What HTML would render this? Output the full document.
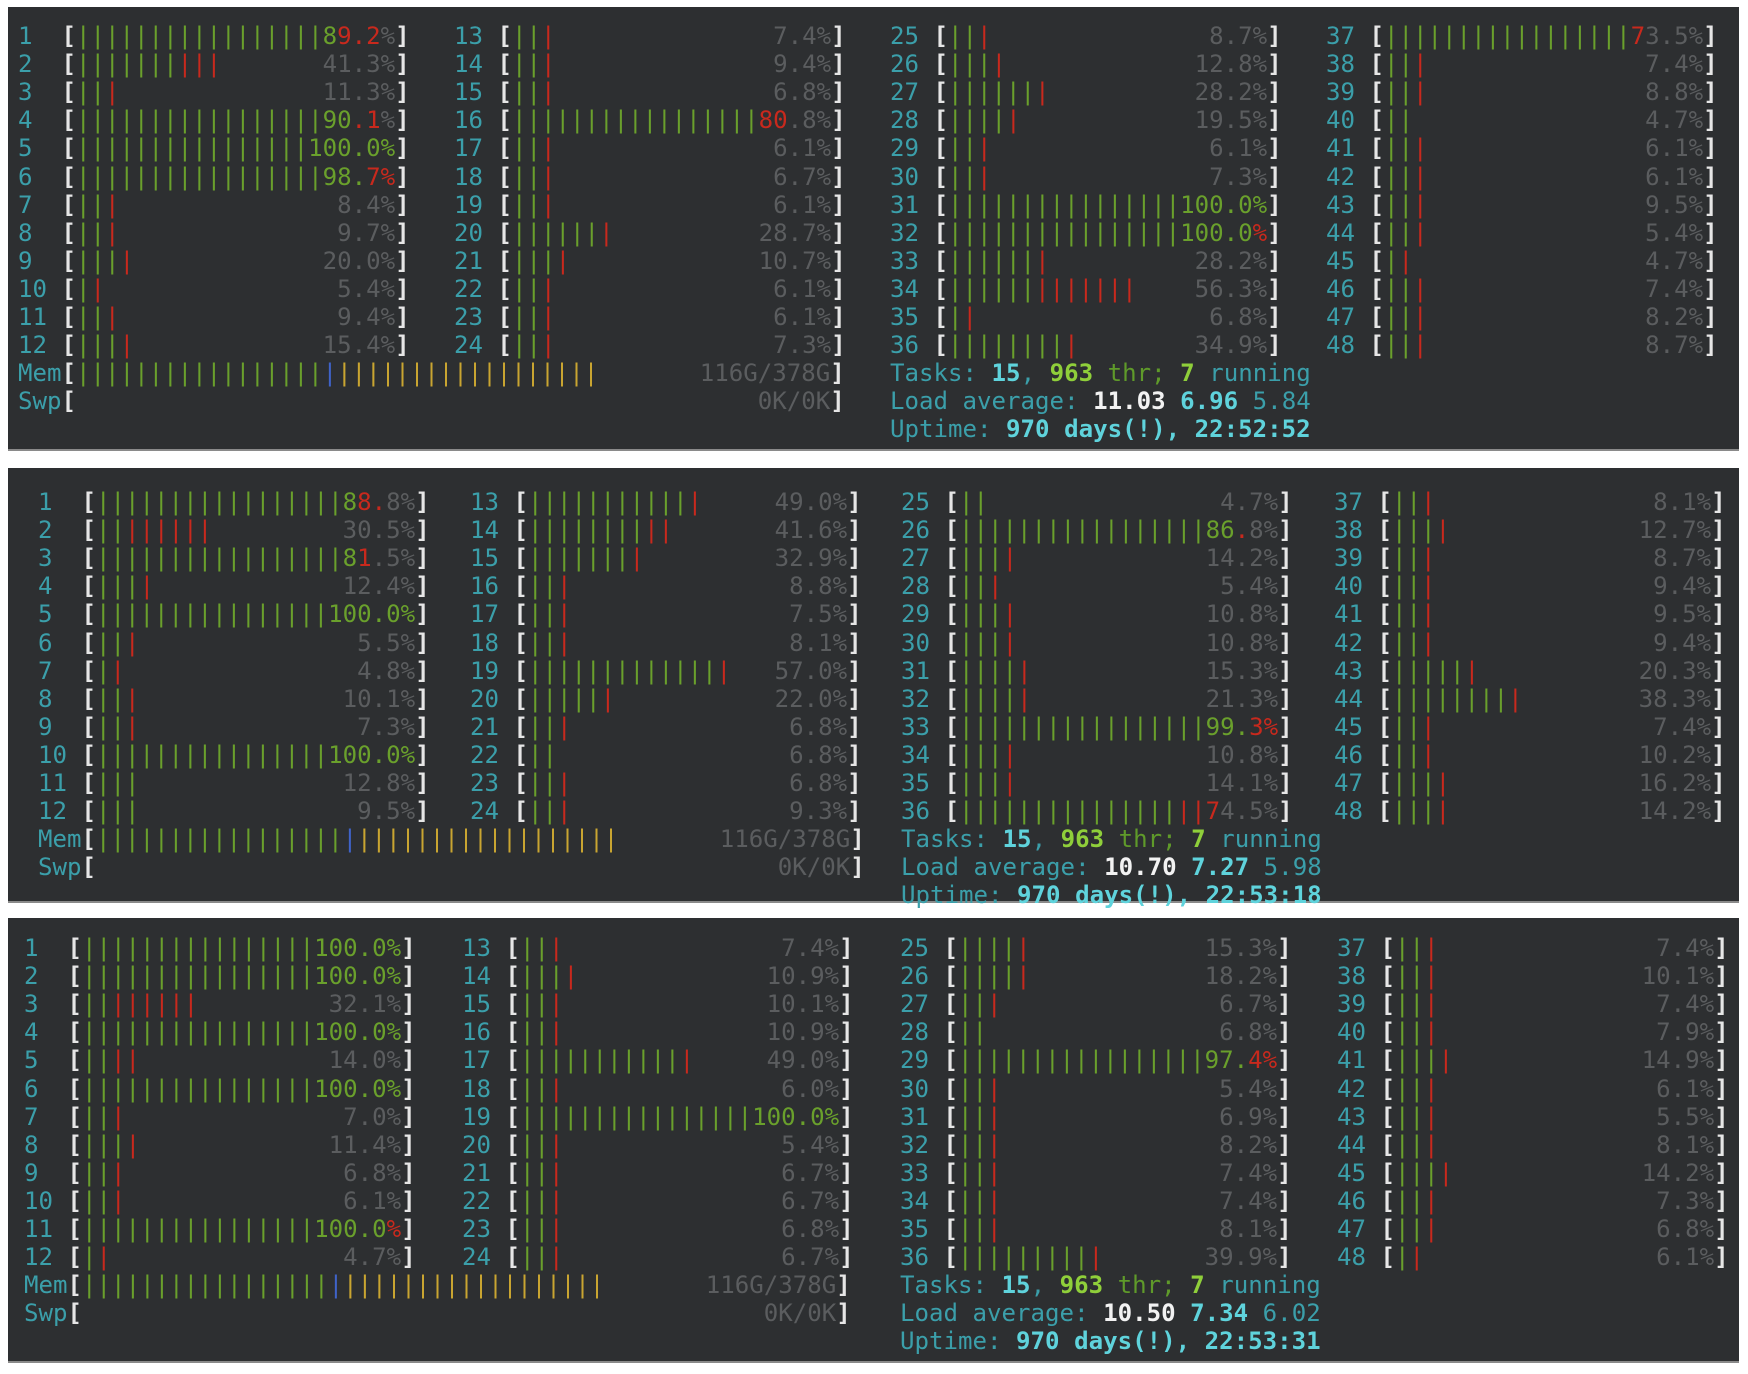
<!DOCTYPE html>
<html><head><meta charset="utf-8"><style>
body{margin:0;background:#fff;width:1748px;height:1374px;position:relative;overflow:hidden}
.pn{position:absolute;left:8px;width:1731px;background:#2d2f31;border-bottom:2px solid #8a8a8a}
.l{position:absolute;white-space:pre;font:bold 24.1px/28px "DejaVu Sans Mono","Liberation Mono",monospace;color:#e6e6e6;width:27ch;margin-top:3px}
.m{width:57ch}
.l i{font-style:normal;position:absolute;right:0;top:0}
.t{position:absolute;white-space:pre;font:24.1px/28px "DejaVu Sans Mono","Liberation Mono",monospace;color:#3b9faa;margin-top:3px}
n{color:#3b9faa;font-weight:normal}
g{color:#6aa02c;font-weight:normal}
e{color:#c8291d;font-weight:normal}
k{color:#5b5d5f;font-weight:normal}
y{color:#c9a531;font-weight:normal}
v{color:#3f63c8;font-weight:normal}
c{color:#5fd3dc;font-weight:bold}
h{color:#8fcf3a;font-weight:bold}
w{color:#f2f2f2;font-weight:bold}
z{color:#5f9a2a;font-weight:normal}
</style></head><body>
<div class="pn" style="top:7px;height:442px"></div>
<div class="pn" style="top:468px;height:433px"></div>
<div class="pn" style="top:918px;height:443px"></div>

<div class="l" style="left:18px;top:19px"><n>1 </n> [<g>|||||||||||||||||</g><i><g>8</g><e>9.2</e><k>%</k>]</i></div>
<div class="l" style="left:18px;top:47px"><n>2 </n> [<g>|||||||</g><e>|||</e><i><k>41.3%</k>]</i></div>
<div class="l" style="left:18px;top:75px"><n>3 </n> [<g>||</g><e>|</e><i><k>11.3%</k>]</i></div>
<div class="l" style="left:18px;top:103px"><n>4 </n> [<g>|||||||||||||||||</g><i><g>90</g><e>.1</e><k>%</k>]</i></div>
<div class="l" style="left:18px;top:131px"><n>5 </n> [<g>||||||||||||||||</g><i><g>100.0%</g>]</i></div>
<div class="l" style="left:18px;top:160px"><n>6 </n> [<g>|||||||||||||||||</g><i><g>98.</g><e>7%</e>]</i></div>
<div class="l" style="left:18px;top:188px"><n>7 </n> [<g>||</g><e>|</e><i><k>8.4%</k>]</i></div>
<div class="l" style="left:18px;top:216px"><n>8 </n> [<g>||</g><e>|</e><i><k>9.7%</k>]</i></div>
<div class="l" style="left:18px;top:244px"><n>9 </n> [<g>|||</g><e>|</e><i><k>20.0%</k>]</i></div>
<div class="l" style="left:18px;top:272px"><n>10</n> [<g>|</g><e>|</e><i><k>5.4%</k>]</i></div>
<div class="l" style="left:18px;top:300px"><n>11</n> [<g>||</g><e>|</e><i><k>9.4%</k>]</i></div>
<div class="l" style="left:18px;top:328px"><n>12</n> [<g>|||</g><e>|</e><i><k>15.4%</k>]</i></div>
<div class="l" style="left:454px;top:19px"><n>13</n> [<g>||</g><e>|</e><i><k>7.4%</k>]</i></div>
<div class="l" style="left:454px;top:47px"><n>14</n> [<g>||</g><e>|</e><i><k>9.4%</k>]</i></div>
<div class="l" style="left:454px;top:75px"><n>15</n> [<g>||</g><e>|</e><i><k>6.8%</k>]</i></div>
<div class="l" style="left:454px;top:103px"><n>16</n> [<g>|||||||||||||||||</g><i><e>80</e><k>.8%</k>]</i></div>
<div class="l" style="left:454px;top:131px"><n>17</n> [<g>||</g><e>|</e><i><k>6.1%</k>]</i></div>
<div class="l" style="left:454px;top:160px"><n>18</n> [<g>||</g><e>|</e><i><k>6.7%</k>]</i></div>
<div class="l" style="left:454px;top:188px"><n>19</n> [<g>||</g><e>|</e><i><k>6.1%</k>]</i></div>
<div class="l" style="left:454px;top:216px"><n>20</n> [<g>||||||</g><e>|</e><i><k>28.7%</k>]</i></div>
<div class="l" style="left:454px;top:244px"><n>21</n> [<g>|||</g><e>|</e><i><k>10.7%</k>]</i></div>
<div class="l" style="left:454px;top:272px"><n>22</n> [<g>||</g><e>|</e><i><k>6.1%</k>]</i></div>
<div class="l" style="left:454px;top:300px"><n>23</n> [<g>||</g><e>|</e><i><k>6.1%</k>]</i></div>
<div class="l" style="left:454px;top:328px"><n>24</n> [<g>||</g><e>|</e><i><k>7.3%</k>]</i></div>
<div class="l" style="left:890px;top:19px"><n>25</n> [<g>||</g><e>|</e><i><k>8.7%</k>]</i></div>
<div class="l" style="left:890px;top:47px"><n>26</n> [<g>|||</g><e>|</e><i><k>12.8%</k>]</i></div>
<div class="l" style="left:890px;top:75px"><n>27</n> [<g>||||||</g><e>|</e><i><k>28.2%</k>]</i></div>
<div class="l" style="left:890px;top:103px"><n>28</n> [<g>||||</g><e>|</e><i><k>19.5%</k>]</i></div>
<div class="l" style="left:890px;top:131px"><n>29</n> [<g>||</g><e>|</e><i><k>6.1%</k>]</i></div>
<div class="l" style="left:890px;top:160px"><n>30</n> [<g>||</g><e>|</e><i><k>7.3%</k>]</i></div>
<div class="l" style="left:890px;top:188px"><n>31</n> [<g>||||||||||||||||</g><i><g>100.0%</g>]</i></div>
<div class="l" style="left:890px;top:216px"><n>32</n> [<g>||||||||||||||||</g><i><g>100.0</g><e>%</e>]</i></div>
<div class="l" style="left:890px;top:244px"><n>33</n> [<g>||||||</g><e>|</e><i><k>28.2%</k>]</i></div>
<div class="l" style="left:890px;top:272px"><n>34</n> [<g>||||||</g><e>|||||||</e><i><k>56.3%</k>]</i></div>
<div class="l" style="left:890px;top:300px"><n>35</n> [<g>|</g><e>|</e><i><k>6.8%</k>]</i></div>
<div class="l" style="left:890px;top:328px"><n>36</n> [<g>||||||||</g><e>|</e><i><k>34.9%</k>]</i></div>
<div class="l" style="left:1326px;top:19px"><n>37</n> [<g>|||||||||||||||||</g><i><e>7</e><k>3.5%</k>]</i></div>
<div class="l" style="left:1326px;top:47px"><n>38</n> [<g>||</g><e>|</e><i><k>7.4%</k>]</i></div>
<div class="l" style="left:1326px;top:75px"><n>39</n> [<g>||</g><e>|</e><i><k>8.8%</k>]</i></div>
<div class="l" style="left:1326px;top:103px"><n>40</n> [<g>||</g><i><k>4.7%</k>]</i></div>
<div class="l" style="left:1326px;top:131px"><n>41</n> [<g>||</g><e>|</e><i><k>6.1%</k>]</i></div>
<div class="l" style="left:1326px;top:160px"><n>42</n> [<g>||</g><e>|</e><i><k>6.1%</k>]</i></div>
<div class="l" style="left:1326px;top:188px"><n>43</n> [<g>||</g><e>|</e><i><k>9.5%</k>]</i></div>
<div class="l" style="left:1326px;top:216px"><n>44</n> [<g>||</g><e>|</e><i><k>5.4%</k>]</i></div>
<div class="l" style="left:1326px;top:244px"><n>45</n> [<g>|</g><e>|</e><i><k>4.7%</k>]</i></div>
<div class="l" style="left:1326px;top:272px"><n>46</n> [<g>||</g><e>|</e><i><k>7.4%</k>]</i></div>
<div class="l" style="left:1326px;top:300px"><n>47</n> [<g>||</g><e>|</e><i><k>8.2%</k>]</i></div>
<div class="l" style="left:1326px;top:328px"><n>48</n> [<g>||</g><e>|</e><i><k>8.7%</k>]</i></div>
<div class="l m" style="left:18px;top:356px"><n>Mem</n>[<g>|||||||||||||||||</g><v>|</v><y>||||||||||||||||||</y><i><k>116G/378G</k>]</i></div>
<div class="l m" style="left:18px;top:384px"><n>Swp</n>[<i><k>0K/0K</k>]</i></div>
<div class="t" style="left:890px;top:356px">Tasks: <c>15</c>, <h>963</h> <z>thr;</z> <h>7</h> running</div>
<div class="t" style="left:890px;top:384px">Load average: <w>11.03</w> <c>6.96</c> 5.84</div>
<div class="t" style="left:890px;top:412px">Uptime: <c>970 days(!), 22:52:52</c></div>

<div class="l" style="left:38px;top:485px"><n>1 </n> [<g>|||||||||||||||||</g><i><g>8</g><e>8.</e><k>8%</k>]</i></div>
<div class="l" style="left:38px;top:513px"><n>2 </n> [<g>||</g><e>||||||</e><i><k>30.5%</k>]</i></div>
<div class="l" style="left:38px;top:541px"><n>3 </n> [<g>|||||||||||||||||</g><i><g>8</g><e>1</e><k>.5%</k>]</i></div>
<div class="l" style="left:38px;top:569px"><n>4 </n> [<g>|||</g><e>|</e><i><k>12.4%</k>]</i></div>
<div class="l" style="left:38px;top:597px"><n>5 </n> [<g>||||||||||||||||</g><i><g>100.0%</g>]</i></div>
<div class="l" style="left:38px;top:626px"><n>6 </n> [<g>||</g><e>|</e><i><k>5.5%</k>]</i></div>
<div class="l" style="left:38px;top:654px"><n>7 </n> [<g>|</g><e>|</e><i><k>4.8%</k>]</i></div>
<div class="l" style="left:38px;top:682px"><n>8 </n> [<g>||</g><e>|</e><i><k>10.1%</k>]</i></div>
<div class="l" style="left:38px;top:710px"><n>9 </n> [<g>||</g><e>|</e><i><k>7.3%</k>]</i></div>
<div class="l" style="left:38px;top:738px"><n>10</n> [<g>||||||||||||||||</g><i><g>100.0%</g>]</i></div>
<div class="l" style="left:38px;top:766px"><n>11</n> [<g>|||</g><i><k>12.8%</k>]</i></div>
<div class="l" style="left:38px;top:794px"><n>12</n> [<g>|||</g><i><k>9.5%</k>]</i></div>
<div class="l" style="left:470px;top:485px"><n>13</n> [<g>|||||||||||</g><e>|</e><i><k>49.0%</k>]</i></div>
<div class="l" style="left:470px;top:513px"><n>14</n> [<g>||||||||</g><e>||</e><i><k>41.6%</k>]</i></div>
<div class="l" style="left:470px;top:541px"><n>15</n> [<g>|||||||</g><e>|</e><i><k>32.9%</k>]</i></div>
<div class="l" style="left:470px;top:569px"><n>16</n> [<g>||</g><e>|</e><i><k>8.8%</k>]</i></div>
<div class="l" style="left:470px;top:597px"><n>17</n> [<g>||</g><e>|</e><i><k>7.5%</k>]</i></div>
<div class="l" style="left:470px;top:626px"><n>18</n> [<g>||</g><e>|</e><i><k>8.1%</k>]</i></div>
<div class="l" style="left:470px;top:654px"><n>19</n> [<g>|||||||||||||</g><e>|</e><i><k>57.0%</k>]</i></div>
<div class="l" style="left:470px;top:682px"><n>20</n> [<g>|||||</g><e>|</e><i><k>22.0%</k>]</i></div>
<div class="l" style="left:470px;top:710px"><n>21</n> [<g>||</g><e>|</e><i><k>6.8%</k>]</i></div>
<div class="l" style="left:470px;top:738px"><n>22</n> [<g>||</g><i><k>6.8%</k>]</i></div>
<div class="l" style="left:470px;top:766px"><n>23</n> [<g>||</g><e>|</e><i><k>6.8%</k>]</i></div>
<div class="l" style="left:470px;top:794px"><n>24</n> [<g>||</g><e>|</e><i><k>9.3%</k>]</i></div>
<div class="l" style="left:901px;top:485px"><n>25</n> [<g>||</g><i><k>4.7%</k>]</i></div>
<div class="l" style="left:901px;top:513px"><n>26</n> [<g>|||||||||||||||||</g><i><g>86</g><e>.</e><k>8%</k>]</i></div>
<div class="l" style="left:901px;top:541px"><n>27</n> [<g>|||</g><e>|</e><i><k>14.2%</k>]</i></div>
<div class="l" style="left:901px;top:569px"><n>28</n> [<g>||</g><e>|</e><i><k>5.4%</k>]</i></div>
<div class="l" style="left:901px;top:597px"><n>29</n> [<g>|||</g><e>|</e><i><k>10.8%</k>]</i></div>
<div class="l" style="left:901px;top:626px"><n>30</n> [<g>|||</g><e>|</e><i><k>10.8%</k>]</i></div>
<div class="l" style="left:901px;top:654px"><n>31</n> [<g>||||</g><e>|</e><i><k>15.3%</k>]</i></div>
<div class="l" style="left:901px;top:682px"><n>32</n> [<g>||||</g><e>|</e><i><k>21.3%</k>]</i></div>
<div class="l" style="left:901px;top:710px"><n>33</n> [<g>|||||||||||||||||</g><i><g>99.</g><e>3%</e>]</i></div>
<div class="l" style="left:901px;top:738px"><n>34</n> [<g>|||</g><e>|</e><i><k>10.8%</k>]</i></div>
<div class="l" style="left:901px;top:766px"><n>35</n> [<g>|||</g><e>|</e><i><k>14.1%</k>]</i></div>
<div class="l" style="left:901px;top:794px"><n>36</n> [<g>|||||||||||||||</g><e>||</e><i><e>7</e><k>4.5%</k>]</i></div>
<div class="l" style="left:1334px;top:485px"><n>37</n> [<g>||</g><e>|</e><i><k>8.1%</k>]</i></div>
<div class="l" style="left:1334px;top:513px"><n>38</n> [<g>|||</g><e>|</e><i><k>12.7%</k>]</i></div>
<div class="l" style="left:1334px;top:541px"><n>39</n> [<g>||</g><e>|</e><i><k>8.7%</k>]</i></div>
<div class="l" style="left:1334px;top:569px"><n>40</n> [<g>||</g><e>|</e><i><k>9.4%</k>]</i></div>
<div class="l" style="left:1334px;top:597px"><n>41</n> [<g>||</g><e>|</e><i><k>9.5%</k>]</i></div>
<div class="l" style="left:1334px;top:626px"><n>42</n> [<g>||</g><e>|</e><i><k>9.4%</k>]</i></div>
<div class="l" style="left:1334px;top:654px"><n>43</n> [<g>|||||</g><e>|</e><i><k>20.3%</k>]</i></div>
<div class="l" style="left:1334px;top:682px"><n>44</n> [<g>||||||||</g><e>|</e><i><k>38.3%</k>]</i></div>
<div class="l" style="left:1334px;top:710px"><n>45</n> [<g>||</g><e>|</e><i><k>7.4%</k>]</i></div>
<div class="l" style="left:1334px;top:738px"><n>46</n> [<g>||</g><e>|</e><i><k>10.2%</k>]</i></div>
<div class="l" style="left:1334px;top:766px"><n>47</n> [<g>|||</g><e>|</e><i><k>16.2%</k>]</i></div>
<div class="l" style="left:1334px;top:794px"><n>48</n> [<g>|||</g><e>|</e><i><k>14.2%</k>]</i></div>
<div class="l m" style="left:38px;top:822px"><n>Mem</n>[<g>|||||||||||||||||</g><v>|</v><y>||||||||||||||||||</y><i><k>116G/378G</k>]</i></div>
<div class="l m" style="left:38px;top:850px"><n>Swp</n>[<i><k>0K/0K</k>]</i></div>
<div class="t" style="left:901px;top:822px">Tasks: <c>15</c>, <h>963</h> <z>thr;</z> <h>7</h> running</div>
<div class="t" style="left:901px;top:850px">Load average: <w>10.70</w> <c>7.27</c> 5.98</div>
<div class="t" style="left:901px;top:878px">Uptime: <c>970 days(!), 22:53:18</c></div>

<div class="l" style="left:24px;top:931px"><n>1 </n> [<g>||||||||||||||||</g><i><g>100.0%</g>]</i></div>
<div class="l" style="left:24px;top:959px"><n>2 </n> [<g>||||||||||||||||</g><i><g>100.0%</g>]</i></div>
<div class="l" style="left:24px;top:987px"><n>3 </n> [<g>||</g><e>||||||</e><i><k>32.1%</k>]</i></div>
<div class="l" style="left:24px;top:1015px"><n>4 </n> [<g>||||||||||||||||</g><i><g>100.0%</g>]</i></div>
<div class="l" style="left:24px;top:1043px"><n>5 </n> [<g>||</g><e>||</e><i><k>14.0%</k>]</i></div>
<div class="l" style="left:24px;top:1072px"><n>6 </n> [<g>||||||||||||||||</g><i><g>100.0%</g>]</i></div>
<div class="l" style="left:24px;top:1100px"><n>7 </n> [<g>||</g><e>|</e><i><k>7.0%</k>]</i></div>
<div class="l" style="left:24px;top:1128px"><n>8 </n> [<g>|||</g><e>|</e><i><k>11.4%</k>]</i></div>
<div class="l" style="left:24px;top:1156px"><n>9 </n> [<g>||</g><e>|</e><i><k>6.8%</k>]</i></div>
<div class="l" style="left:24px;top:1184px"><n>10</n> [<g>||</g><e>|</e><i><k>6.1%</k>]</i></div>
<div class="l" style="left:24px;top:1212px"><n>11</n> [<g>||||||||||||||||</g><i><g>100.0</g><e>%</e>]</i></div>
<div class="l" style="left:24px;top:1240px"><n>12</n> [<g>|</g><e>|</e><i><k>4.7%</k>]</i></div>
<div class="l" style="left:462px;top:931px"><n>13</n> [<g>||</g><e>|</e><i><k>7.4%</k>]</i></div>
<div class="l" style="left:462px;top:959px"><n>14</n> [<g>|||</g><e>|</e><i><k>10.9%</k>]</i></div>
<div class="l" style="left:462px;top:987px"><n>15</n> [<g>||</g><e>|</e><i><k>10.1%</k>]</i></div>
<div class="l" style="left:462px;top:1015px"><n>16</n> [<g>||</g><e>|</e><i><k>10.9%</k>]</i></div>
<div class="l" style="left:462px;top:1043px"><n>17</n> [<g>|||||||||||</g><e>|</e><i><k>49.0%</k>]</i></div>
<div class="l" style="left:462px;top:1072px"><n>18</n> [<g>||</g><e>|</e><i><k>6.0%</k>]</i></div>
<div class="l" style="left:462px;top:1100px"><n>19</n> [<g>||||||||||||||||</g><i><g>100.0%</g>]</i></div>
<div class="l" style="left:462px;top:1128px"><n>20</n> [<g>||</g><e>|</e><i><k>5.4%</k>]</i></div>
<div class="l" style="left:462px;top:1156px"><n>21</n> [<g>||</g><e>|</e><i><k>6.7%</k>]</i></div>
<div class="l" style="left:462px;top:1184px"><n>22</n> [<g>||</g><e>|</e><i><k>6.7%</k>]</i></div>
<div class="l" style="left:462px;top:1212px"><n>23</n> [<g>||</g><e>|</e><i><k>6.8%</k>]</i></div>
<div class="l" style="left:462px;top:1240px"><n>24</n> [<g>||</g><e>|</e><i><k>6.7%</k>]</i></div>
<div class="l" style="left:900px;top:931px"><n>25</n> [<g>||||</g><e>|</e><i><k>15.3%</k>]</i></div>
<div class="l" style="left:900px;top:959px"><n>26</n> [<g>||||</g><e>|</e><i><k>18.2%</k>]</i></div>
<div class="l" style="left:900px;top:987px"><n>27</n> [<g>||</g><e>|</e><i><k>6.7%</k>]</i></div>
<div class="l" style="left:900px;top:1015px"><n>28</n> [<g>||</g><i><k>6.8%</k>]</i></div>
<div class="l" style="left:900px;top:1043px"><n>29</n> [<g>|||||||||||||||||</g><i><g>97.</g><e>4%</e>]</i></div>
<div class="l" style="left:900px;top:1072px"><n>30</n> [<g>||</g><e>|</e><i><k>5.4%</k>]</i></div>
<div class="l" style="left:900px;top:1100px"><n>31</n> [<g>||</g><e>|</e><i><k>6.9%</k>]</i></div>
<div class="l" style="left:900px;top:1128px"><n>32</n> [<g>||</g><e>|</e><i><k>8.2%</k>]</i></div>
<div class="l" style="left:900px;top:1156px"><n>33</n> [<g>||</g><e>|</e><i><k>7.4%</k>]</i></div>
<div class="l" style="left:900px;top:1184px"><n>34</n> [<g>||</g><e>|</e><i><k>7.4%</k>]</i></div>
<div class="l" style="left:900px;top:1212px"><n>35</n> [<g>||</g><e>|</e><i><k>8.1%</k>]</i></div>
<div class="l" style="left:900px;top:1240px"><n>36</n> [<g>|||||||||</g><e>|</e><i><k>39.9%</k>]</i></div>
<div class="l" style="left:1337px;top:931px"><n>37</n> [<g>||</g><e>|</e><i><k>7.4%</k>]</i></div>
<div class="l" style="left:1337px;top:959px"><n>38</n> [<g>||</g><e>|</e><i><k>10.1%</k>]</i></div>
<div class="l" style="left:1337px;top:987px"><n>39</n> [<g>||</g><e>|</e><i><k>7.4%</k>]</i></div>
<div class="l" style="left:1337px;top:1015px"><n>40</n> [<g>||</g><e>|</e><i><k>7.9%</k>]</i></div>
<div class="l" style="left:1337px;top:1043px"><n>41</n> [<g>|||</g><e>|</e><i><k>14.9%</k>]</i></div>
<div class="l" style="left:1337px;top:1072px"><n>42</n> [<g>||</g><e>|</e><i><k>6.1%</k>]</i></div>
<div class="l" style="left:1337px;top:1100px"><n>43</n> [<g>||</g><e>|</e><i><k>5.5%</k>]</i></div>
<div class="l" style="left:1337px;top:1128px"><n>44</n> [<g>||</g><e>|</e><i><k>8.1%</k>]</i></div>
<div class="l" style="left:1337px;top:1156px"><n>45</n> [<g>|||</g><e>|</e><i><k>14.2%</k>]</i></div>
<div class="l" style="left:1337px;top:1184px"><n>46</n> [<g>||</g><e>|</e><i><k>7.3%</k>]</i></div>
<div class="l" style="left:1337px;top:1212px"><n>47</n> [<g>||</g><e>|</e><i><k>6.8%</k>]</i></div>
<div class="l" style="left:1337px;top:1240px"><n>48</n> [<g>|</g><e>|</e><i><k>6.1%</k>]</i></div>
<div class="l m" style="left:24px;top:1268px"><n>Mem</n>[<g>|||||||||||||||||</g><v>|</v><y>||||||||||||||||||</y><i><k>116G/378G</k>]</i></div>
<div class="l m" style="left:24px;top:1296px"><n>Swp</n>[<i><k>0K/0K</k>]</i></div>
<div class="t" style="left:900px;top:1268px">Tasks: <c>15</c>, <h>963</h> <z>thr;</z> <h>7</h> running</div>
<div class="t" style="left:900px;top:1296px">Load average: <w>10.50</w> <c>7.34</c> 6.02</div>
<div class="t" style="left:900px;top:1324px">Uptime: <c>970 days(!), 22:53:31</c></div>
</body></html>
